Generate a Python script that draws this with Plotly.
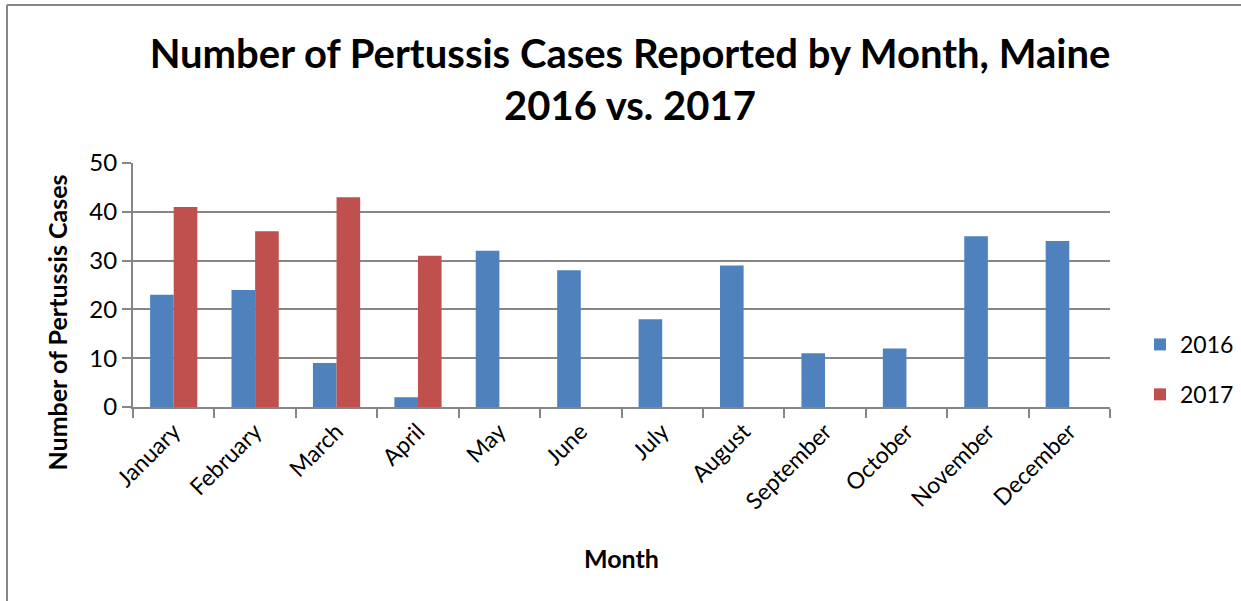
import plotly.graph_objects as go

months = ["January", "February", "March", "April", "May", "June", "July",
          "August", "September", "October", "November", "December"]
cases_2016 = [23, 24, 9, 2, 32, 28, 18, 29, 11, 12, 35, 34]
cases_2017 = [41, 36, 43, 31, None, None, None, None, None, None, None, None]
y_ticks = [0, 10, 20, 30, 40, 50]

FONT = "Lato"
W, H = 1241, 601
L, R, T, B = 133, 131, 163, 194
pw, ph = W - L - R, H - T - B


def px_x(p):
    return (p - L) / pw


def px_y(p):
    return (H - B - p) / ph


fig = go.Figure()
fig.add_trace(go.Bar(name="2016", x=months, y=cases_2016, marker_color="#4F81BD",
                     marker_line_width=0, legendgroup="a"))
fig.add_trace(go.Bar(name="2017", x=months, y=cases_2017, marker_color="#C0504D",
                     marker_line_width=0, legendgroup="b"))

fig.update_layout(
    width=W, height=H,
    margin=dict(l=L, r=R, t=T, b=B, autoexpand=False),
    paper_bgcolor="white", plot_bgcolor="white",
    font=dict(family=FONT, color="black"),
    barmode="group", bargap=0.42, bargroupgap=0,
    title=dict(text="<b>Number of Pertussis Cases Reported by Month, Maine<br>2016 vs. 2017</b>",
               x=630 / W, xanchor="center", y=1 - 68 / H, yanchor="middle",
               yref="container", font=dict(size=40, family=FONT)),
    xaxis=dict(type="category", tickson="boundaries", ticks="outside", ticklen=9,
               tickcolor="#868686", tickwidth=2, showline=True, linecolor="#868686",
               linewidth=2, tickangle=-45, tickfont=dict(size=23), showgrid=False,
               title=None),
    yaxis=dict(range=[0, 50], tickvals=y_ticks, ticks="outside", ticklen=9,
               tickcolor="#868686", tickwidth=2, showline=True, linecolor="#868686",
               linewidth=2, gridcolor="#868686", gridwidth=2, tickfont=dict(size=24),
               ticksuffix="\u00a0\u00a0", zeroline=False, title=None),
    legend=dict(x=px_x(1140), xanchor="left", y=px_y(369.5), yanchor="middle",
                font=dict(size=23), traceorder="grouped", tracegroupgap=17,
                bgcolor="rgba(0,0,0,0)"),
    annotations=[
        dict(text="<b>Number of Pertussis Cases</b>", textangle=-90, xref="paper", yref="paper",
             x=px_x(56), y=px_y(322.5), showarrow=False, font=dict(size=25, family=FONT),
             xanchor="center", yanchor="middle"),
        dict(text="<b>Month</b>", xref="paper", yref="paper",
             x=px_x(621), y=px_y(558), showarrow=False, font=dict(size=25, family=FONT),
             xanchor="center", yanchor="middle"),
    ],
    shapes=[
        dict(type="line", xref="paper", yref="paper", x0=px_x(7), x1=px_x(W + 5),
             y0=px_y(5), y1=px_y(5), line=dict(color="#868686", width=2)),
        dict(type="line", xref="paper", yref="paper", x0=px_x(7), x1=px_x(7),
             y0=px_y(5), y1=px_y(H + 5), line=dict(color="#868686", width=2)),
    ],
)

fig.write_html("out.html", config={"displayModeBar": False},
               post_script="document.body.style.margin='0';document.body.style.overflow='hidden';")
